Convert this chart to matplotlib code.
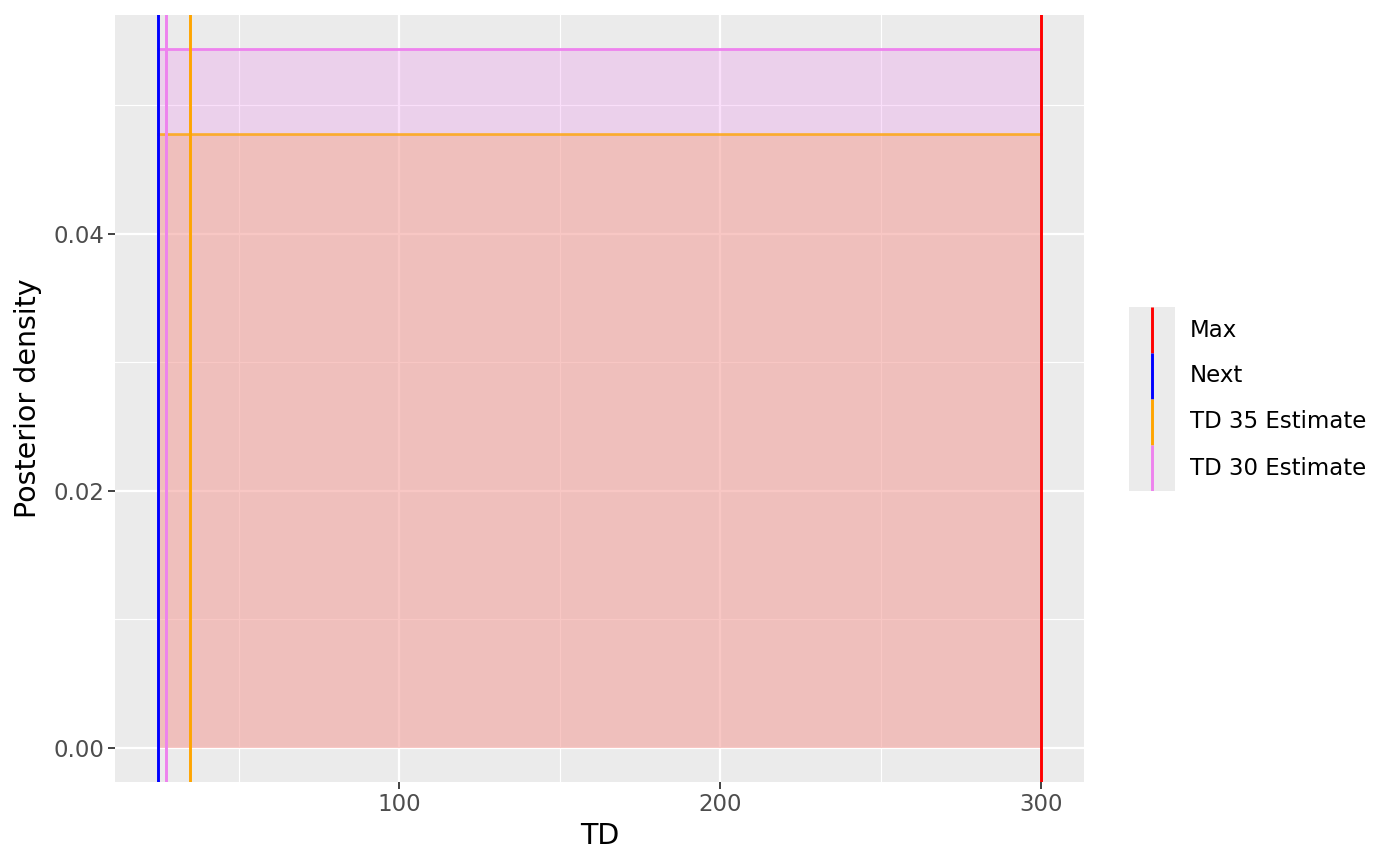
import matplotlib.pyplot as plt
import numpy as np
from matplotlib.ticker import FixedLocator, FormatStrFormatter

# data
dens_x = [25, 300]
dens_td35 = [0.0478, 0.0478]
dens_td30 = [0.0544, 0.0544]

line_labels = ["Max", "Next", "TD 35 Estimate", "TD 30 Estimate"]
line_values = [300, 25, 35, 27.5]
line_colors = ["red", "blue", "orange", "violet"]

panel_bg = "#EBEBEB"

fig = plt.figure(figsize=(14, 8.66), dpi=100)
ax = fig.add_axes([115 / 1400, 84 / 866, 969 / 1400, 767 / 866])
ax.set_facecolor(panel_bg)
for s in ax.spines.values():
    s.set_visible(False)

ax.set_xlim(11.5, 313.4)
ax.set_ylim(-0.00265, 0.05704)

# grid like ggplot
ax.xaxis.set_major_locator(FixedLocator([100, 200, 300]))
ax.xaxis.set_minor_locator(FixedLocator([50, 150, 250]))
ax.yaxis.set_major_locator(FixedLocator([0.0, 0.02, 0.04]))
ax.yaxis.set_minor_locator(FixedLocator([0.01, 0.03, 0.05]))
ax.yaxis.set_major_formatter(FormatStrFormatter("%.2f"))
ax.grid(which="major", color="white", linewidth=1.6, zorder=0)
ax.grid(which="minor", color="white", linewidth=0.8, zorder=0)
ax.set_axisbelow(True)
ax.tick_params(which="major", length=5, width=1.3, color="#333333",
               labelcolor="#4D4D4D", labelsize=16.5, pad=3)
ax.tick_params(which="minor", length=0)

# densities
ax.fill_between(dens_x, 0, dens_td30, color="violet", alpha=0.25,
                linewidth=0, zorder=1)
ax.plot(dens_x, dens_td30, color="violet", linewidth=2, zorder=2)
ax.fill_between(dens_x, 0, dens_td35, color="#F6AA80", alpha=0.44,
                linewidth=0, zorder=2)
ax.plot(dens_x, dens_td35, color="orange", alpha=0.75, linewidth=2, zorder=3)

# vertical reference lines
for v, c in zip(line_values, line_colors):
    ax.axvline(v, color=c, linewidth=2.1, zorder=4)

ax.set_xlabel("TD", fontsize=20.5, labelpad=4)
ax.set_ylabel("Posterior density", fontsize=20.5, labelpad=8)

# legend built by hand: stacked vertical keys on grey
key_h = 46
key_top = 307
lax = fig.add_axes([1129 / 1400, (866 - (key_top + key_h * len(line_labels))) / 866,
                    46 / 1400, key_h * len(line_labels) / 866])
lax.set_facecolor(panel_bg)
lax.set_xlim(0, 1)
lax.set_ylim(0, len(line_labels))
lax.set_xticks([])
lax.set_yticks([])
for s in lax.spines.values():
    s.set_visible(False)
for i, (lab, c) in enumerate(zip(line_labels, line_colors)):
    top = len(line_labels) - i
    lax.plot([0.5, 0.5], [top - 1, top], color=c, linewidth=2.1,
             solid_capstyle="butt")
    fig.text(1190 / 1400, 1 - (key_top + key_h * (i + 0.5)) / 866, lab,
             fontsize=16.5, va="center", ha="left", color="black")

fig.savefig("out.png", dpi=100)
